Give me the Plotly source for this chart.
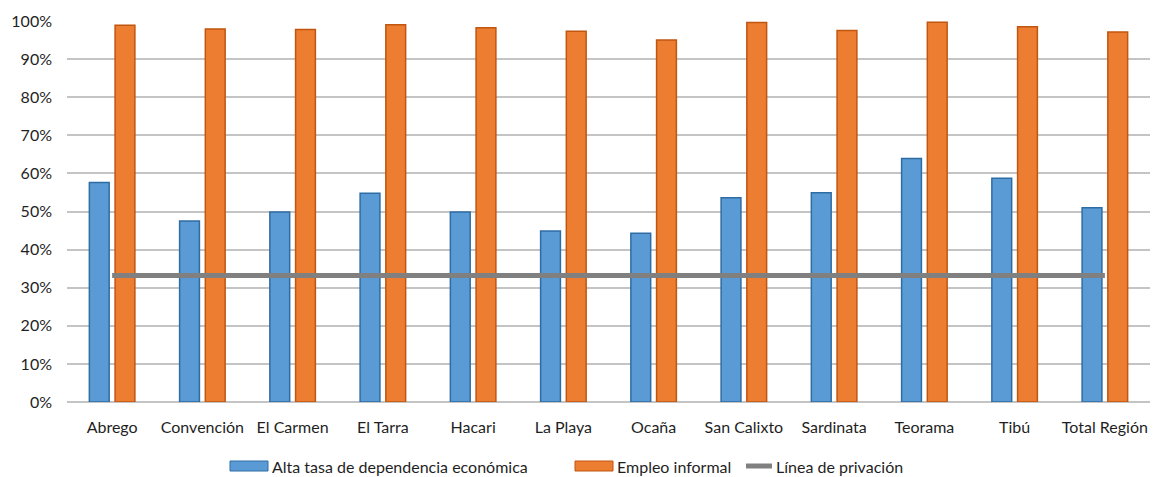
import plotly.graph_objects as go

categories = ["Abrego", "Convención", "El Carmen", "El Tarra", "Hacari", "La Playa",
              "Ocaña", "San Calixto", "Sardinata", "Teorama", "Tibú", "Total Región"]
dependencia = [57.6, 47.5, 49.9, 54.8, 49.9, 44.9, 44.3, 53.6, 54.9, 63.9, 58.7, 51.0]
empleo_informal = [98.9, 97.9, 97.8, 99.0, 98.2, 97.3, 95.0, 99.6, 97.5, 99.7, 98.5, 97.1]
linea_privacion = [33.2] * 12
y_ticks = [0, 10, 20, 30, 40, 50, 60, 70, 80, 90, 100]
y_tick_labels = [f"{v}%" for v in y_ticks]
series_names = ["Alta tasa de dependencia económica", "Empleo informal", "Línea de privación"]

FONT = "Lato, Carlito, 'Open Sans', sans-serif"
BLUE, BLUE_EDGE = "#5b9bd5", "#2e6ca4"
ORANGE, ORANGE_EDGE = "#ed7d31", "#c0560f"
GRAY = "#808080"
TEXT = "#1f1f1f"

fig = go.Figure()
fig.add_trace(go.Bar(
    x=categories, y=dependencia, name=series_names[0],
    marker=dict(color=BLUE, line=dict(color=BLUE_EDGE, width=1.5)),
))
fig.add_trace(go.Bar(
    x=categories, y=empleo_informal, name=series_names[1],
    marker=dict(color=ORANGE, line=dict(color=ORANGE_EDGE, width=1.5)),
))
fig.add_trace(go.Scatter(
    x=categories, y=linea_privacion, name=series_names[2], mode="lines",
    line=dict(color=GRAY, width=5),
))

# Custom legend (wide rectangle swatches like the original)
L, W, T, H = 67, 1083, 21, 381
def px(x):
    return (x - L) / W
def py(y):
    return (T + H - y) / H

ly = 466
legend_items = [
    (series_names[0], "rect", BLUE, BLUE_EDGE, 230, 268),
    (series_names[1], "rect", ORANGE, ORANGE_EDGE, 575, 613),
    (series_names[2], "line", GRAY, GRAY, 746, 772),
]
shapes = []
annotations = []
for name, kind, col, edge, x0, x1 in legend_items:
    if kind == "rect":
        shapes.append(dict(type="rect", xref="paper", yref="paper",
                           x0=px(x0), x1=px(x1), y0=py(ly + 5), y1=py(ly - 5),
                           fillcolor=col, line=dict(color=edge, width=1)))
    else:
        shapes.append(dict(type="line", xref="paper", yref="paper",
                           x0=px(x0), x1=px(x1), y0=py(ly), y1=py(ly),
                           line=dict(color=col, width=5)))
    annotations.append(dict(text=name, xref="paper", yref="paper", x=px(x1 + 2), y=py(ly),
                            xanchor="left", yanchor="middle", showarrow=False,
                            font=dict(size=16, color=TEXT, family=FONT)))

fig.update_layout(
    width=1154, height=477,
    margin=dict(l=L, r=4, t=T, b=477 - T - H, autoexpand=False),
    paper_bgcolor="white", plot_bgcolor="white",
    barmode="group", bargap=0.43, bargroupgap=0.23,
    font=dict(family=FONT, size=16, color=TEXT),
    showlegend=False,
    shapes=shapes, annotations=annotations,
)
fig.update_xaxes(showgrid=False, showline=False, ticks="", tickfont=dict(size=16),
                 ticklabelstandoff=14, zeroline=False, automargin=False)
fig.update_yaxes(range=[0, 100], tickvals=y_ticks, ticktext=y_tick_labels,
                 showgrid=True, gridcolor="#c4c4c4", gridwidth=1.5,
                 zeroline=True, zerolinecolor="#c4c4c4", zerolinewidth=1.5,
                 showline=False, ticks="", tickfont=dict(size=16), ticklabelstandoff=14,
                 automargin=False)

fig.write_html("out.html")
